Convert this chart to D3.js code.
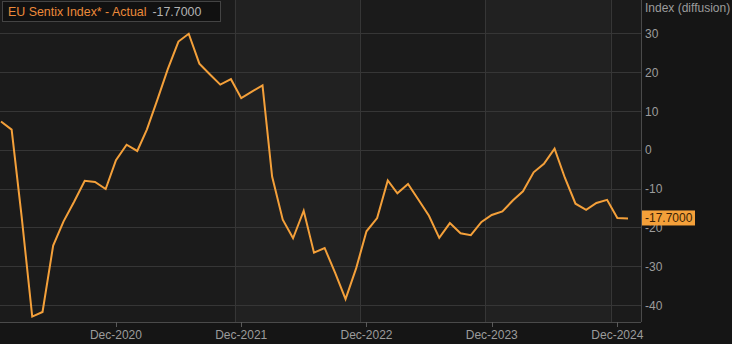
<!DOCTYPE html>
<html>
<head>
<meta charset="utf-8">
<script src="https://cdn.jsdelivr.net/npm/d3@7"></script>
<style>
    body { margin: 0; background: #151515; }
    svg { display: block; font-family: "Liberation Sans", Arial, sans-serif; }
</style>
</head>
<body>
<svg id="chart" width="732" height="344"></svg>
<script>
// monthly readings, Jan-2020 .. Jan-2025
const startMonth = "2020-01-01";
const sentixValues = [
    7.3, 5.2, -17.1, -43.0, -41.8, -24.7, -18.5, -13.4, -8.0, -8.3, -10.1, -2.7,
    1.3, -0.3, 5.2, 13.0, 20.8, 27.9, 29.9, 22.2, 19.4, 16.8, 18.2, 13.3,
    15.0, 16.6, -6.9, -18.0, -22.8, -15.7, -26.5, -25.3, -31.8, -38.5, -30.5, -21.0,
    -17.6, -7.9, -11.2, -8.8, -12.8, -17.0, -22.7, -18.9, -21.5, -22.0, -18.6, -16.8,
    -15.9, -13.0, -10.7, -5.8, -3.6, 0.3, -7.2, -13.9, -15.5, -13.7, -12.9, -17.6,
    -17.7
];
const yTicks = [30, 20, 10, 0, -10, -20, -30, -40];
const xTickDates = ["2020-12-01", "2021-12-01", "2022-12-01", "2023-12-01", "2024-12-01"];
const gridDates = ["2021-11-12", "2022-11-12", "2023-11-12", "2024-11-12"];
const shadedBands = [["2021-11-12", "2022-11-12"], ["2023-11-12", "2024-11-12"]];
const seriesName = "EU Sentix Index* - Actual";
const lastLabel = "-17.7000";
const axisTitle = "Index (diffusion)";

const parse = d3.utcParse("%Y-%m-%d");
const fmtTick = d3.utcFormat("%b-%Y");

const svg = d3.select("#chart");
const plot = { left: 0, right: 641, top: 0, bottom: 322 };

const start = parse(startMonth);
const data = sentixValues.map((v, i) => ({ date: d3.utcMonth.offset(start, i), val: v }));

const x = d3.scaleUtc()
    .domain([parse("2020-01-01"), parse("2025-01-01")])
    .range([1, 628]);
const y = d3.scaleLinear()
    .domain([-40, 30])
    .range([305, 33.4]);

// plot background
svg.append('rect')
    .attr('x', plot.left).attr('y', plot.top)
    .attr('width', plot.right - plot.left).attr('height', plot.bottom - plot.top)
    .attr('fill', '#1b1b1b');

svg.append('g').selectAll('rect')
    .data(shadedBands)
    .enter().append('rect')
    .attr('x', d => x(parse(d[0])))
    .attr('y', plot.top)
    .attr('width', d => x(parse(d[1])) - x(parse(d[0])))
    .attr('height', plot.bottom - plot.top)
    .attr('fill', '#212121');

// grid
let grid = svg.append('g').attr('stroke', '#363636').attr('stroke-width', 1);
grid.selectAll('.hgrid').data(yTicks).enter().append('line')
    .attr('x1', plot.left).attr('x2', plot.right)
    .attr('y1', d => Math.round(y(d)) + 0.5).attr('y2', d => Math.round(y(d)) + 0.5);
grid.selectAll('.vgrid').data(gridDates).enter().append('line')
    .attr('x1', d => Math.round(x(parse(d))) + 0.5).attr('x2', d => Math.round(x(parse(d))) + 0.5)
    .attr('y1', plot.top).attr('y2', plot.bottom);

// axis frame
svg.append('line')
    .attr('x1', plot.right + 0.5).attr('x2', plot.right + 0.5)
    .attr('y1', plot.top).attr('y2', plot.bottom)
    .attr('stroke', '#4a4a4a');
svg.append('line')
    .attr('x1', plot.left).attr('x2', plot.right)
    .attr('y1', plot.bottom + 0.5).attr('y2', plot.bottom + 0.5)
    .attr('stroke', '#4a4a4a');

// series line
let clip = svg.append('clipPath').attr('id', 'plot-clip');
clip.append('rect').attr('x', plot.left).attr('y', plot.top)
    .attr('width', plot.right - plot.left).attr('height', plot.bottom - plot.top);

let line = d3.line()
    .x(d => x(d.date))
    .y(d => y(d.val));
svg.append('path')
    .datum(data)
    .attr('clip-path', 'url(#plot-clip)')
    .attr('d', line)
    .attr('fill', 'none')
    .attr('stroke', '#f4a03a')
    .attr('stroke-width', 2)
    .attr('stroke-linejoin', 'miter');

// right axis
let yAxis = svg.append('g').attr('fill', '#9c9c9c').style('font-size', '12px');
yAxis.selectAll('text').data(yTicks).enter().append('text')
    .attr('x', plot.right + 4)
    .attr('y', d => y(d) + 4.5)
    .text(d => d);
svg.append('text')
    .attr('x', plot.right + 4).attr('y', 12)
    .attr('fill', '#9c9c9c').style('font-size', '12px')
    .text(axisTitle);

// bottom axis
let xAxis = svg.append('g');
xAxis.selectAll('line').data(xTickDates).enter().append('line')
    .attr('x1', d => Math.round(x(parse(d))) + 0.5).attr('x2', d => Math.round(x(parse(d))) + 0.5)
    .attr('y1', plot.bottom).attr('y2', plot.bottom + 5)
    .attr('stroke', '#5a5a5a');
xAxis.selectAll('text').data(xTickDates).enter().append('text')
    .attr('x', d => x(parse(d)))
    .attr('y', 339)
    .attr('text-anchor', 'middle')
    .attr('fill', '#9c9c9c').style('font-size', '12px')
    .text(d => fmtTick(parse(d)));

// last value tag
let last = data[data.length - 1];
let tagY = y(last.val);
svg.append('rect')
    .attr('x', plot.right + 1).attr('y', tagY - 8)
    .attr('width', 53).attr('height', 15)
    .attr('fill', '#f4a03a');
svg.append('text')
    .attr('x', plot.right + 4).attr('y', tagY + 4)
    .attr('fill', '#3a1f05').style('font-size', '12px')
    .text(lastLabel);

// legend box
let legend = svg.append('g');
legend.append('rect')
    .attr('x', 2.5).attr('y', 1.5).attr('width', 218).attr('height', 20)
    .attr('fill', '#111111').attr('stroke', '#444444');
let legText = legend.append('text')
    .attr('x', 8).attr('y', 16)
    .style('font-size', '12.4px');
legText.append('tspan').attr('fill', '#ec8a3a').text(seriesName);
legText.append('tspan').attr('dx', 6).attr('fill', '#b4b4b4').text(lastLabel);
</script>
</body>
</html>
